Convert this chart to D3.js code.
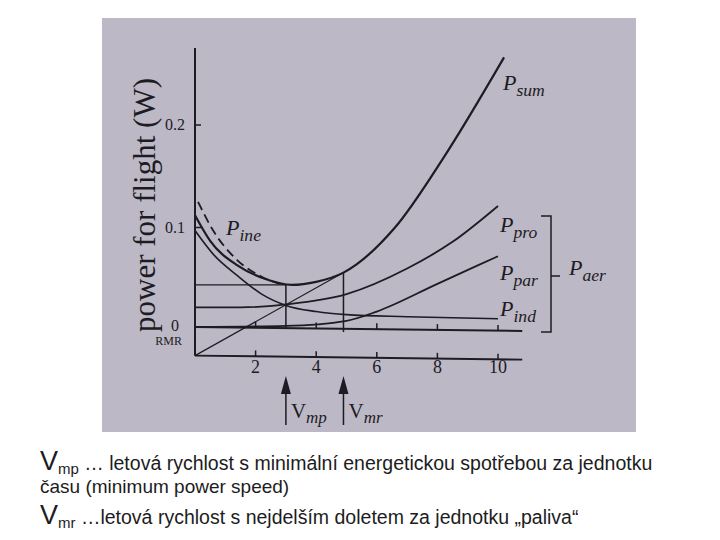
<!DOCTYPE html>
<html>
<head>
<meta charset="utf-8">
<script src="https://cdn.jsdelivr.net/npm/d3@7"></script>
<style>
body { margin:0; background:#fff; }
svg text { fill:#1c1c22; }
</style>
</head>
<body>
<script>
// speed (m/s) and power (W)
var xTicks = [2, 4, 6, 8, 10];
var yTicks = [0.1, 0.2];
var rmr = -0.025;
var psum = [[0,0.112],[0.5,0.087],[1.4,0.063],[2.3,0.05],[3.2,0.044],[4.0,0.047],[4.9,0.056],[6.6,0.100],[8.2,0.168],[10.2,0.266]];
var pine = [[0.1,0.125],[0.6,0.097],[1.4,0.068],[2.2,0.052],[2.8,0.045]];
var pind = [[0,0.097],[0.6,0.074],[1.4,0.053],[2.2,0.035],[3.0,0.024],[4.0,0.018],[5.0,0.015],[7.0,0.013],[10,0.011]];
var ppro = [[0,0.022],[1.5,0.022],[3,0.025],[5,0.035],[7,0.06],[8.5,0.086],[10,0.121]];
var ppar = [[0,0.003],[3,0.004],[5,0.009],[6,0.018],[8,0.045],[10,0.072]];
var vmp = 3.0, vmr = 4.9;

var svg = d3.select("body").append("svg").attr("width",720).attr("height",540);
svg.append("rect").attr("x",102).attr("y",18).attr("width",534).attr("height",414).attr("fill","#bcb8c6");

var x = d3.scaleLinear().domain([0,10]).range([195,498]);
var y = d3.scaleLinear().domain([0,0.2]).range([330,125]);
var line = d3.line().x(function(d){return x(d[0]);}).y(function(d){return y(d[1]);}).curve(d3.curveMonotoneX);
var ink = "#1c1c22";

function path(data, w, dash) {
  svg.append("path").attr("d",line(data)).attr("fill","none").attr("stroke",ink)
    .attr("stroke-width",w).attr("stroke-dasharray",dash||null);
}
// axes
svg.append("line").attr("x1",x(0)).attr("x2",x(0)).attr("y1",48).attr("y2",y(rmr)).attr("stroke",ink).attr("stroke-width",2);
[0.003, rmr].forEach(function(v){
  svg.append("line").attr("x1",x(0)).attr("x2",x(10.8)).attr("y1",y(v)).attr("y2",y(v)+4).attr("stroke",ink).attr("stroke-width",2);
  xTicks.forEach(function(t){
    svg.append("line").attr("x1",x(t)).attr("x2",x(t)).attr("y1",y(v)+t*0.4).attr("y2",y(v)+t*0.4-6).attr("stroke",ink).attr("stroke-width",1.5);
  });
});
yTicks.forEach(function(t){
  svg.append("line").attr("x1",x(0)).attr("x2",x(0)+6).attr("y1",y(t)).attr("y2",y(t)).attr("stroke",ink).attr("stroke-width",1.5);
  svg.append("text").attr("x",x(0)-10).attr("y",y(t)+5).attr("text-anchor","end")
    .attr("font-family","Liberation Serif").attr("font-size",16).text(t);
});
svg.append("text").attr("x",x(0)-16).attr("y",y(0)+1).attr("text-anchor","end").attr("font-family","Liberation Serif").attr("font-size",16).text("0");
svg.append("text").attr("x",x(0)-13).attr("y",y(rmr)-11).attr("text-anchor","end").attr("font-family","Liberation Serif").attr("font-size",12).text("RMR");
xTicks.forEach(function(t){
  svg.append("text").attr("x",x(t)).attr("y",373).attr("text-anchor","middle").attr("font-family","Liberation Serif").attr("font-size",18).text(t);
});
svg.append("text").attr("transform","translate(155,205) rotate(-90)").attr("text-anchor","middle")
  .attr("font-family","Liberation Serif").attr("font-size",31).text("power for flight (W)");

// construction lines
var psumMin = 0.044, psumVmr = 0.056;
svg.append("line").attr("x1",x(0)).attr("x2",x(vmp)).attr("y1",y(psumMin)).attr("y2",y(psumMin)).attr("stroke",ink).attr("stroke-width",1.2);
svg.append("line").attr("x1",x(vmp)).attr("x2",x(vmp)).attr("y1",y(psumMin)).attr("y2",y(0.001)).attr("stroke",ink).attr("stroke-width",1.5);
svg.append("line").attr("x1",x(vmr)).attr("x2",x(vmr)).attr("y1",y(psumVmr)).attr("y2",y(-0.002)).attr("stroke",ink).attr("stroke-width",1.5);
svg.append("line").attr("x1",x(0)).attr("x2",x(5.05)).attr("y1",y(rmr)).attr("y2",y(rmr+(psumVmr-rmr)*5.05/vmr)).attr("stroke",ink).attr("stroke-width",1.2);

path(psum,2.2); path(pine,1.8,"9,5"); path(pind,1.6); path(ppro,1.8); path(ppar,1.8);

// labels
function lab(tx, ty, main, sub, size) {
  var t = svg.append("text").attr("x",tx).attr("y",ty).attr("font-family","Liberation Serif").attr("font-style","italic").attr("font-size",size||22);
  t.append("tspan").text(main);
  t.append("tspan").attr("dy",6).attr("font-size",(size||22)*0.8).text(sub);
}
lab(503,90,"P","sum"); lab(226,235,"P","ine"); lab(500,232,"P","pro"); lab(500,280,"P","par");
lab(500,316,"P","ind"); lab(569,275,"P","aer");
svg.append("path").attr("d","M541,216 H551 V332 H541 M551,276 H560").attr("fill","none").attr("stroke",ink).attr("stroke-width",1.5);

// arrows
[[vmp,"mp"],[vmr,"mr"]].forEach(function(a){
  var ax = x(a[0]);
  svg.append("line").attr("x1",ax).attr("x2",ax).attr("y1",388).attr("y2",425).attr("stroke",ink).attr("stroke-width",1.5);
  svg.append("path").attr("d","M"+(ax-5)+",394 L"+ax+",376 L"+(ax+5)+",394Z").attr("fill",ink);
  var t = svg.append("text").attr("x",ax+5).attr("y",418).attr("font-family","Liberation Serif").attr("font-size",21);
  t.append("tspan").text("V");
  t.append("tspan").attr("dy",5).attr("font-style","italic").attr("font-size",17).text(a[1]);
});

// caption
function cap(ty, sub, rest) {
  var t = svg.append("text").attr("x",40).attr("y",ty).attr("font-family","Liberation Sans").attr("fill","#000");
  t.append("tspan").attr("font-size",27).text("V");
  t.append("tspan").attr("font-size",15).attr("dy",4).text(sub);
  t.append("tspan").attr("font-size",19.5).attr("dy",-4).text(rest);
}
cap(470,"mp"," … letová rychlost s minimální energetickou spotřebou za jednotku");
svg.append("text").attr("x",40).attr("y",493).attr("font-family","Liberation Sans").attr("font-size",19).text("času (minimum power speed)");
cap(524,"mr"," …letová rychlost s nejdelším doletem za jednotku „paliva“");
</script>
</body>
</html>
